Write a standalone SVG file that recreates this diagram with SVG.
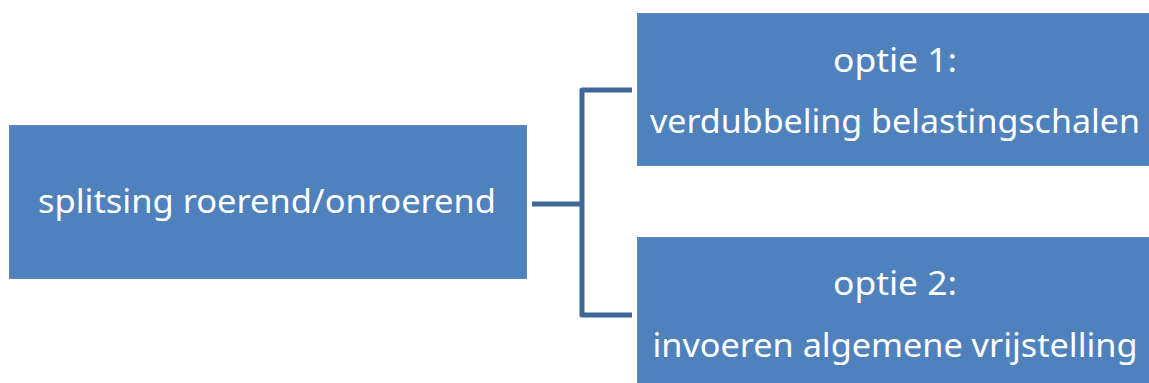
<svg xmlns="http://www.w3.org/2000/svg" width="1149" height="383" viewBox="0 0 1149 383">
<style>
.box{fill:#4f81bd;stroke:#5b8ac4;stroke-width:1}
.t{font-family:"Noto Sans","Open Sans","Liberation Sans",sans-serif;font-size:33px;fill:#ffffff;text-anchor:middle}
.c{fill:none;stroke:#3f6797;stroke-width:5;stroke-linejoin:round;stroke-linecap:butt}
</style>
<rect width="1149" height="383" fill="#ffffff"/>
<g id="connectors">
<path class="c" d="M532,204 H582"/>
<path class="c" d="M632,90 H582 V315 H632"/>
</g>
<g id="node-split">
<rect class="box" x="9.5" y="125.5" width="517" height="153"/>
<text class="t" x="267" y="213" textLength="458" lengthAdjust="spacingAndGlyphs">splitsing roerend/onroerend</text>
</g>
<g id="node-optie1">
<rect class="box" x="637.5" y="13.5" width="512" height="152"/>
<text class="t" x="895" y="72" textLength="124" lengthAdjust="spacingAndGlyphs">optie 1:</text>
<text class="t" x="895" y="133" textLength="490" lengthAdjust="spacingAndGlyphs">verdubbeling belastingschalen</text>
</g>
<g id="node-optie2">
<rect class="box" x="637.5" y="237.5" width="512" height="150"/>
<text class="t" x="895" y="295" textLength="124" lengthAdjust="spacingAndGlyphs">optie 2:</text>
<text class="t" x="895" y="357" textLength="485" lengthAdjust="spacingAndGlyphs">invoeren algemene vrijstelling</text>
</g>
</svg>
